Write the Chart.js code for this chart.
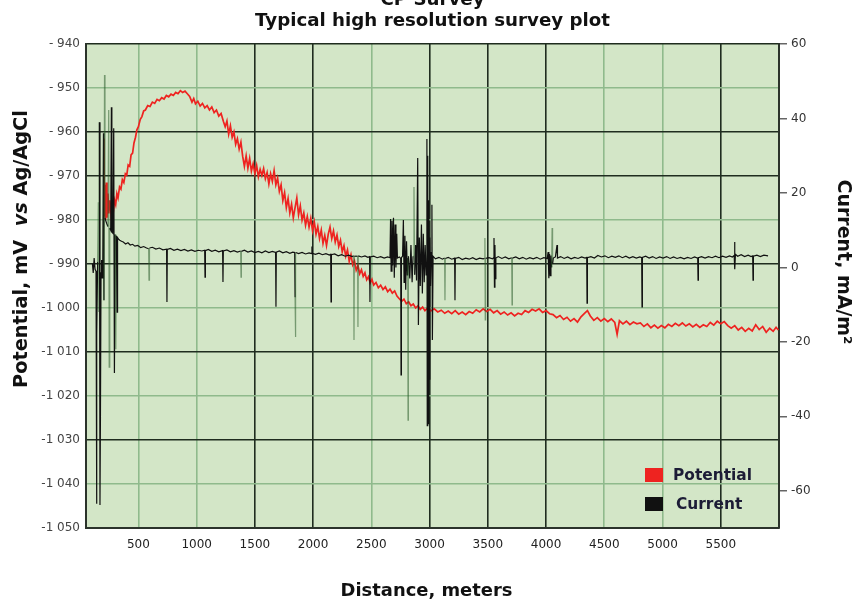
<!DOCTYPE html>
<html>
<head>
<meta charset="utf-8">
<script src="https://cdn.jsdelivr.net/npm/chart.js@4.4.1/dist/chart.umd.min.js"></script>
<style>
  html, body { margin: 0; padding: 0; background: #ffffff; overflow: hidden; }
  #c { display: block; }
</style>
</head>
<body>
<canvas id="c" width="856" height="601"></canvas>
<script>
// ---------------- DATA ----------------
const titleLines = ['CP Survey', 'Typical high resolution survey plot'];
const xAxisTitle = 'Distance, meters';
const leftAxisTitle = [['Potential, mV  ', 'normal'], ['vs', 'italic'], [' Ag/AgCl', 'normal']];
const rightAxisTitle = 'Current, mA/m\u00B2';
const seriesNames = ['Potential', 'Current'];

const xTickValues = [500, 1000, 1500, 2000, 2500, 3000, 3500, 4000, 4500, 5000, 5500];
const xGridDark = [1500, 2000, 3000, 3500, 4000, 5500];
const potentialTickValues = [-940, -950, -960, -970, -980, -990, -1000, -1010, -1020, -1030, -1040, -1050];
const potentialTickLabels = ['- 940', '- 950', '- 960', '- 970', '- 980', '- 990', '-1 000', '-1 010', '-1 020', '-1 030', '-1 040', '-1 050'];
const potentialGridDark = [-940, -960, -970, -990, -1010, -1030, -1050];
const currentTickValues = [-60, -40, -20, 0, 20, 40, 60];

// Potential (mV vs Ag/AgCl): [distance m, value]
const potential = [
[200,-978],[204,-961.5],[208,-979],[213,-972],[218,-980],[224,-971.5],[230,-979.5],[238,-974],[246,-978.5],[255,-975.5],
[265,-978.5],[275,-976.5],[285,-978],[295,-975.5],[305,-976.5],[315,-974],[325,-975],[338,-972.5],[350,-973],[362,-970.8],
[375,-971.5],[388,-969.5],[400,-969.8],[412,-967.5],[425,-967.8],[437,-965.2],[450,-964.8],[462,-962.5],[475,-961.2],[487,-959.5],
[500,-958.8],[515,-957.2],[530,-956.5],[545,-955.2],[560,-955],[580,-954],[600,-954.2],[620,-953.2],[640,-953.5],[660,-952.6],
[680,-952.9],[700,-952.2],[720,-952.5],[740,-951.7],[760,-952],[780,-951.4],[800,-951.7],[820,-951],[840,-951.3],[860,-950.6],
[880,-951],[900,-950.7],[920,-951.3],[940,-951.9],[960,-953.2],[975,-952.4],[990,-953.6],[1010,-953],[1030,-954.1],[1050,-953.5],
[1070,-954.5],[1090,-954],[1110,-955],[1130,-954.3],[1150,-955.6],[1170,-955],[1190,-956.4],[1210,-955.8],[1230,-957.6],[1245,-958.8],
[1260,-957.5],[1275,-960.5],[1290,-958.6],[1305,-961.2],[1320,-960],[1335,-962.8],[1350,-961.5],[1365,-963.9],[1380,-962.3],[1395,-965.5],
[1410,-967.8],[1425,-965.4],[1440,-968.2],[1455,-966],[1470,-968.9],[1485,-967.2],[1500,-969.5],[1515,-967.6],[1530,-970.2],[1545,-968.5],
[1560,-969.9],[1575,-968.3],[1590,-970.6],[1605,-969.2],[1620,-971.8],[1635,-969.5],[1650,-971.2],[1665,-968.8],[1680,-972],[1695,-970.5],
[1710,-973.5],[1725,-972],[1740,-975.6],[1755,-973.8],[1770,-977.2],[1785,-975.1],[1800,-978.4],[1815,-976.4],[1830,-979.5],[1845,-977.2],
[1860,-975],[1875,-978.8],[1890,-976.8],[1905,-980],[1920,-978.4],[1935,-981.2],[1950,-979.2],[1965,-981.6],[1980,-979.6],[1995,-982.4],
[2010,-980.4],[2025,-983.2],[2040,-981.5],[2055,-984.2],[2070,-982.3],[2085,-985.3],[2100,-983.5],[2115,-985.8],[2130,-983.2],[2145,-981.6],
[2160,-984.2],[2175,-982.5],[2190,-985],[2205,-983.4],[2220,-986],[2235,-984.6],[2250,-987.2],[2265,-985.8],[2280,-988.2],[2295,-986.8],
[2310,-989.4],[2325,-987.9],[2340,-990.2],[2355,-989.3],[2370,-991.4],[2385,-990.4],[2400,-992.2],[2415,-991.3],[2430,-992.8],[2445,-992],
[2460,-993.6],[2475,-992.9],[2490,-994.3],[2505,-993.5],[2520,-994.8],[2540,-994.2],[2560,-995.4],[2580,-994.8],[2600,-995.8],[2620,-995.2],
[2640,-996.3],[2660,-995.7],[2680,-996.6],[2700,-996.1],[2720,-997.3],[2740,-997.9],[2760,-998.5],[2780,-998],[2800,-999],[2820,-998.6],
[2840,-999.5],[2860,-999.1],[2880,-1000],[2900,-999.5],[2920,-1000.3],[2940,-999.8],[2960,-1000.6],[2980,-1000.1],[3010,-1000.7],[3040,-1000.2],
[3070,-1000.9],[3100,-1000.5],[3130,-1001.2],[3160,-1000.7],[3190,-1001.3],[3220,-1000.6],[3250,-1001.4],[3280,-1000.9],[3310,-1001.5],[3340,-1000.8],
[3370,-1001.2],[3400,-1000.4],[3430,-1000.9],[3460,-1000.2],[3490,-1000.8],[3520,-1000.3],[3550,-1001.1],[3580,-1000.6],[3610,-1001.4],[3640,-1000.9],
[3670,-1001.6],[3700,-1001.1],[3730,-1001.8],[3760,-1001.2],[3790,-1001.5],[3820,-1000.6],[3850,-1001],[3880,-1000.3],[3910,-1000.7],[3940,-1000.2],
[3970,-1001],[4000,-1000.6],[4030,-1001.3],[4060,-1001.5],[4090,-1002.2],[4120,-1001.7],[4150,-1002.6],[4180,-1002.1],[4210,-1003],[4240,-1002.4],
[4270,-1003.2],[4300,-1002],[4330,-1001.2],[4355,-1000.6],[4380,-1001.8],[4410,-1002.8],[4440,-1002.2],[4470,-1003],[4500,-1002.4],[4530,-1003.1],
[4560,-1002.5],[4590,-1003.3],[4610,-1006],[4630,-1002.9],[4660,-1003.6],[4690,-1003],[4720,-1003.8],[4750,-1003.2],[4780,-1003.6],[4810,-1003.4],
[4840,-1004.2],[4870,-1003.6],[4900,-1004.5],[4930,-1003.9],[4960,-1004.6],[4990,-1004],[5020,-1004.5],[5050,-1003.7],[5080,-1004.2],[5110,-1003.5],
[5140,-1004],[5170,-1003.4],[5200,-1004.1],[5230,-1003.6],[5260,-1004.3],[5290,-1003.7],[5320,-1004.4],[5350,-1003.8],[5380,-1004.2],[5410,-1003.3],
[5440,-1003.9],[5470,-1003],[5500,-1003.6],[5530,-1003.1],[5560,-1004],[5590,-1004.6],[5620,-1004],[5650,-1005],[5680,-1004.4],[5710,-1005.3],
[5740,-1004.6],[5770,-1005.2],[5800,-1003.8],[5830,-1004.9],[5860,-1004.2],[5890,-1005.5],[5920,-1004.6],[5950,-1005.3],[5975,-1004.4],[5995,-1005]
];

// Current density (mA/m2): [distance m, value, faint trace flag]
const current = [
[105,1],[112,-1.5],[120,2.5],[128,-0.5],[136,-1],[140,-63.5],[144,-18],[150,1.5],[156,17.5,1],[160,-12,1],
[165,39],[170,-63.8],[174,-40],[179,-1.5],[184,2],[189,-2.8],[194,-0.5],[200,36],[204,-8.8],[209,51.7,1],
[213,13.3],[220,12.5],[228,11.8],[238,11],[245,42.3,1],[249,-26.8,1],[254,10.5],[262,10],[268,43],[272,9.5],
[280,9.2],[288,37.4],[294,-28.4],[300,8.8],[306,-22,1],[311,8.5],[317,-12],[321,8],[330,7.6],[340,7.3],
[355,7.0],[370,6.8],[390,6.3],[410,6.6],[430,6.0],[450,6.2],[470,5.7],[495,5.9],[520,5.3],[545,5.6],
[570,5.2],[588,5.0],[591,-3.4,1],[595,5.2],[620,5.4],[650,4.9],[680,5.2],[710,4.7],[742,4.9],[745,-9.3],
[748,4.8],[775,5.1],[805,4.6],[835,4.9],[865,4.5],[895,4.8],[925,4.4],[955,4.7],[985,4.3],[1015,4.6],
[1045,4.4],[1069,4.6],[1072,-2.6],[1075,4.5],[1100,4.8],[1130,4.3],[1160,4.6],[1190,4.2],[1223,4.5],[1226,-3.9],
[1229,4.4],[1260,4.7],[1290,4.2],[1320,4.5],[1350,4.1],[1378,4.4],[1381,-2.6,1],[1384,4.3],[1410,4.6],[1440,4.1],
[1470,4.4],[1500,4.0],[1530,4.3],[1560,3.9],[1590,4.4],[1620,4.0],[1650,4.3],[1678,4.0],[1681,-10.6],[1684,4.1],
[1710,4.4],[1740,3.9],[1770,4.2],[1800,3.8],[1825,4.1],[1842,4.0],[1845,-8],[1848,-18.7,1],[1851,4.0],[1875,3.7],
[1905,4.0],[1935,3.6],[1965,3.9],[1988,3.7],[1990,5.6],[1993,3.8],[2020,3.5],[2050,3.8],[2080,3.4],[2110,3.7],
[2140,3.3],[2151,3.5],[2154,-9.3],[2157,3.4],[2185,3.6],[2215,3.1],[2245,3.4],[2275,3.0],[2305,3.3],[2335,2.9],
[2348,3.1],[2351,-19.5,1],[2354,3.0],[2382,3.0],[2385,-16,1],[2388,3.1],[2415,2.8],[2445,3.1],[2470,2.7],[2485,2.9],
[2488,-9.3],[2491,2.8],[2520,3.0],[2550,2.6],[2580,2.9],[2610,2.5],[2640,2.8],[2660,2.6],[2665,13],[2670,-1],
[2677,12.5],[2683,0.5],[2690,13.3],[2697,-2.8],[2704,11.5],[2711,0],[2718,9],[2724,2.5],[2740,2.8],[2752,2.4],
[2755,-28.9],[2758,2.6],[2768,3],[2775,12.7],[2781,-4],[2788,8.5],[2795,-6],[2802,7],[2809,-2],[2812,2.5],
[2815,-41,1],[2818,3],[2830,-3],[2840,6],[2850,-4],[2858,3],[2866,21.6,1],[2872,-2],[2880,6],[2888,-3.5],
[2898,29.4],[2904,-15.5],[2912,8],[2920,-5],[2930,11.5],[2938,-7],[2946,9],[2954,-4],[2962,6],[2970,-2],
[2977,34.5],[2980,-42.5],[2984,30],[2988,-42],[2992,18],[2997,-30],[3002,8],[3008,-5],[3014,4],[3020,16.8],
[3024,-19.5],[3030,3],[3050,2.3],[3080,2.7],[3110,2.2],[3129,2.5],[3132,-8.8,1],[3135,2.4],[3160,2.7],[3190,2.2],
[3215,2.5],[3218,-8.8],[3221,2.4],[3250,2.7],[3280,2.1],[3310,2.5],[3340,2.2],[3370,2.6],[3400,2.1],[3430,2.5],
[3460,2.3],[3472,2.4],[3475,7.9,1],[3478,-14.1,1],[3481,2.4],[3510,2.6],[3540,2.3],[3550,2.6],[3553,7.9],[3557,-5.3],
[3561,6],[3565,-3],[3569,2.5],[3590,2.9],[3620,2.4],[3650,2.8],[3680,2.3],[3705,2.6],[3708,-10.1,1],[3711,2.5],
[3740,2.8],[3770,2.3],[3800,2.7],[3830,2.2],[3860,2.6],[3890,2.3],[3920,2.7],[3950,2.2],[3980,2.6],[4010,2.4],
[4018,4.1],[4024,-2.9],[4030,3.6],[4036,-2.2],[4042,3.2],[4048,0],[4052,10.6,1],[4056,1],[4062,2.5],[4080,2.8],
[4094,6],[4098,2.5],[4125,2.9],[4155,2.4],[4185,2.8],[4215,2.3],[4245,2.7],[4275,2.4],[4305,2.8],[4335,2.5],
[4349,2.7],[4352,-9.6],[4355,2.6],[4385,2.9],[4415,2.5],[4445,3.2],[4475,2.8],[4505,3.1],[4535,2.6],[4565,3.0],
[4595,2.7],[4625,3.1],[4655,2.6],[4685,3.0],[4715,2.5],[4745,2.9],[4775,2.5],[4805,2.8],[4821,2.6],[4824,-10.6],
[4827,2.7],[4855,3.0],[4885,2.5],[4915,2.9],[4945,2.4],[4975,2.8],[5005,2.5],[5035,2.9],[5065,2.4],[5095,2.8],
[5125,2.4],[5155,2.7],[5185,2.3],[5215,2.7],[5245,2.4],[5275,2.8],[5302,2.5],[5305,-3.4],[5308,2.6],[5335,2.9],
[5365,2.5],[5395,2.9],[5425,2.6],[5455,3.0],[5485,2.6],[5515,3.0],[5545,2.7],[5575,3.1],[5600,2.8],[5615,3.2],
[5618,6.8],[5622,-0.5],[5626,3.5],[5645,3.0],[5675,3.4],[5705,2.9],[5735,3.3],[5760,2.9],[5774,3.1],[5777,-3.4],
[5780,3.0],[5810,3.3],[5840,2.9],[5870,3.3],[5906,3.1]
];

// ---------------- STYLE ----------------
const plotBg = '#d3e6c7';
const gridDark = '#1f2c1f';
const gridLight = '#8fba8c';
const potentialColor = '#ee2320';
const currentColor = '#111111';
const currentFaint = 'rgba(40,90,40,0.55)';
const fontFamily = "'DejaVu Sans', Verdana, sans-serif";

function fitSize(ctx, parts, weight, target) {
  let w = 0;
  parts.forEach(p => { ctx.font = `${p[1]} ${weight} 20px ${fontFamily}`; w += ctx.measureText(p[0]).width; });
  return 20 * target / w;
}

const decor = {
  id: 'decor',
  beforeDraw(chart) {
    const { ctx, chartArea: a } = chart;
    ctx.save();
    ctx.fillStyle = '#ffffff';
    ctx.fillRect(0, 0, chart.width, chart.height);
    ctx.fillStyle = plotBg;
    ctx.fillRect(a.left, a.top, a.right - a.left, a.bottom - a.top);
    ctx.restore();
  },
  afterDraw(chart) {
    const { ctx, chartArea: a } = chart;
    const cx = (a.left + a.right) / 2;
    ctx.save();
    ctx.fillStyle = '#111111';
    ctx.textBaseline = 'alphabetic';
    ctx.textAlign = 'center';
    // main titles
    let s = fitSize(ctx, [[titleLines[1], 'normal']], 'bold', 355);
    ctx.font = `bold ${s}px ${fontFamily}`;
    ctx.fillText(titleLines[0], cx, 5);
    ctx.fillText(titleLines[1], cx, 26);
    // x axis title
    s = fitSize(ctx, [[xAxisTitle, 'normal']], 'bold', 172);
    ctx.font = `bold ${s}px ${fontFamily}`;
    ctx.textBaseline = 'middle';
    ctx.fillText(xAxisTitle, cx - 6, 591);
    // left axis title (rotated)
    s = fitSize(ctx, leftAxisTitle, 'bold', 278);
    let total = 0;
    leftAxisTitle.forEach(p => { ctx.font = `${p[1]} bold ${s}px ${fontFamily}`; total += ctx.measureText(p[0]).width; });
    ctx.save();
    ctx.translate(22, 249);
    ctx.rotate(-Math.PI / 2);
    ctx.textAlign = 'left';
    let xx = -total / 2;
    leftAxisTitle.forEach(p => {
      ctx.font = `${p[1]} bold ${s}px ${fontFamily}`;
      ctx.fillText(p[0], xx, 0);
      xx += ctx.measureText(p[0]).width;
    });
    ctx.restore();
    // right axis title
    s = fitSize(ctx, [[rightAxisTitle, 'normal']], 'bold', 165);
    ctx.save();
    ctx.translate(843, 262);
    ctx.rotate(Math.PI / 2);
    ctx.font = `bold ${s}px ${fontFamily}`;
    ctx.textAlign = 'center';
    ctx.fillText(rightAxisTitle, 0, 0);
    ctx.restore();
    // legend
    const ds = chart.data.datasets;
    const pot = ds.find(d => d.label === seriesNames[0]);
    const cur = ds.find(d => d.label === seriesNames[1]);
    const lx = a.right - 134;
    const entries = [[pot, a.bottom - 60, 28], [cur, a.bottom - 31, 31]];
    const ls = fitSize(ctx, [[seriesNames[0], 'normal']], 'bold', 79);
    ctx.textAlign = 'left';
    ctx.textBaseline = 'middle';
    entries.forEach(([d, y, tx]) => {
      ctx.fillStyle = d.borderColor;
      ctx.fillRect(lx, y, 18, 14);
      ctx.fillStyle = '#1c1c36';
      ctx.font = `bold ${ls}px ${fontFamily}`;
      ctx.fillText(d.label, lx + tx, y + 8);
    });
    ctx.restore();
  }
};

const tickFont = { family: fontFamily, size: 12 };

new Chart(document.getElementById('c'), {
  type: 'line',
  data: {
    datasets: [
      {
        label: seriesNames[1],
        data: current.map(p => ({ x: p[0], y: p[1] })),
        yAxisID: 'yR',
        borderColor: currentColor,
        borderWidth: 1.2,
        pointRadius: 0,
        tension: 0,
        order: 0,
        segment: {
          borderColor: c => (current[c.p0DataIndex][2] || current[c.p1DataIndex][2]) ? currentFaint : currentColor
        }
      },
      {
        label: seriesNames[0],
        data: potential.map(p => ({ x: p[0], y: p[1] })),
        yAxisID: 'y',
        borderColor: potentialColor,
        borderWidth: 1.7,
        pointRadius: 0,
        tension: 0,
        order: 1
      }
    ]
  },
  options: {
    responsive: false,
    animation: false,
    devicePixelRatio: 1,
    layout: { padding: { top: 44, left: 0, right: 0, bottom: 0 } },
    plugins: { legend: { display: false }, tooltip: { enabled: false }, title: { display: false } },
    scales: {
      x: {
        type: 'linear', min: 50, max: 6000,
        afterBuildTicks: sc => { sc.ticks = xTickValues.map(v => ({ value: v })); },
        afterFit: sc => { sc.height = 73; },
        ticks: { callback: v => String(v), font: tickFont, color: '#222', padding: 10, maxRotation: 0, autoSkip: false },
        grid: {
          drawTicks: false,
          color: c => xGridDark.includes(c.tick && c.tick.value) ? gridDark : gridLight,
          lineWidth: 1.6
        },
        border: { color: '#2b332b', width: 2 }
      },
      y: {
        type: 'linear', position: 'left', min: -1050, max: -940,
        afterBuildTicks: sc => { sc.ticks = potentialTickValues.map(v => ({ value: v })); },
        afterFit: sc => { sc.width = 86; },
        ticks: {
          callback: v => potentialTickLabels[potentialTickValues.indexOf(v)],
          font: tickFont, color: '#444', padding: 6, autoSkip: false
        },
        grid: {
          drawTicks: false,
          color: c => potentialGridDark.includes(c.tick && c.tick.value) ? gridDark : gridLight,
          lineWidth: 1.6
        },
        border: { color: '#2b332b', width: 2 }
      },
      yR: {
        type: 'linear', position: 'right', min: -70, max: 60,
        afterBuildTicks: sc => { sc.ticks = currentTickValues.map(v => ({ value: v })); },
        afterFit: sc => { sc.width = 77; },
        ticks: { font: tickFont, color: '#333', padding: 4, autoSkip: false },
        grid: { drawOnChartArea: false, drawTicks: true, tickLength: 8, color: '#666', lineWidth: 1.5 },
        border: { color: '#2b332b', width: 2 }
      }
    }
  },
  plugins: [decor]
});
</script>
</body>
</html>
